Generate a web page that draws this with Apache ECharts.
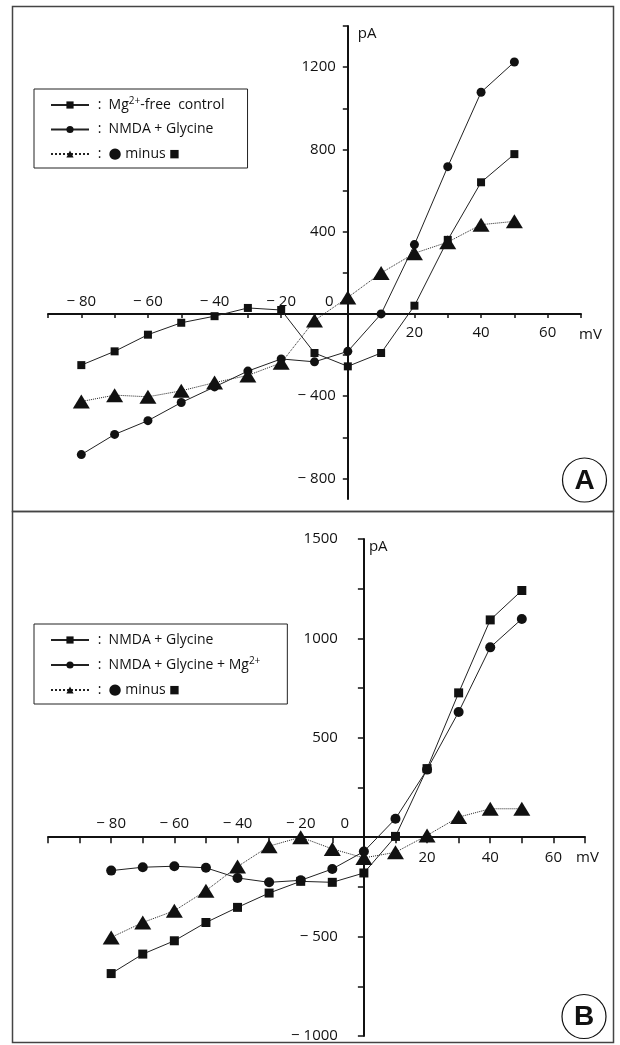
<!DOCTYPE html>
<html>
<head>
<meta charset="utf-8">
<script src="https://cdn.jsdelivr.net/npm/echarts@6/dist/echarts.min.js"></script>
<style>
  html, body { margin: 0; padding: 0; background: #fff; }
  #chart { width: 620px; height: 1045px; }
</style>
</head>
<body>
<div id="chart"></div>
<script>
// membrane potential (mV), same for both panels
const mV = [-80, -70, -60, -50, -40, -30, -20, -10, 0, 10, 20, 30, 40, 50];

// panel A (pA)
const ctrlA = [-249, -182, -101, -43, -11, 29, 19, -190, -255, -190, 40, 360, 640, 777];
const nmdaA = [-684, -586, -519, -431, -355, -278, -219, -233, -182, 0, 337, 716, 1078, 1225];
const diffA = [-426, -395, -403, -374, -334, -299, -238, -32, 80, 199, 295, 349, 434, 450];

// panel B (pA)
const nmdaB = [-686, -588, -521, -429, -353, -281, -222, -227, -180, 4, 345, 726, 1093, 1241];
const mgB = [-168, -151, -146, -154, -205, -227, -217, -160, -72, 93, 340, 630, 955, 1098];
const diffB = [-504, -429, -370, -269, -148, -45, 0, -59, -104, -76, 9, 101, 143, 143];

// ticks and labels
const xTicksA = [-90, -80, -70, -60, -50, -40, -30, -20, -10, 0, 10, 20, 30, 40, 50, 60, 70];
const xTicksB = [-100, -90, -80, -70, -60, -50, -40, -30, -20, -10, 0, 10, 20, 30, 40, 50, 60, 70];
const xNegLabels = [-80, -60, -40, -20, 0];
const xPosLabels = [20, 40, 60];
const yTicksA = [-800, -600, -400, -200, 0, 200, 400, 600, 800, 1000, 1200, 1400];
const yLabelsA = [-800, -400, 400, 800, 1200];
const yTicksB = [-1000, -750, -500, -250, 0, 250, 500, 750, 1000, 1250, 1500];
const yLabelsB = [-1000, -500, 500, 1000, 1500];

const legendText = {
  a1: ' :  Mg{sup|2+}-free  control',
  a2: ' :  NMDA + Glycine',
  a3: ' :  {c|\u25CF} minus {s|\u25A0}',
  b1: ' :  NMDA + Glycine',
  b2: ' :  NMDA + Glycine + Mg{sup|2+}',
  b3: ' :  {c|\u25CF} minus {s|\u25A0}'
};

const FONT = '"Open Sans", "Liberation Sans", sans-serif';
const INK = '#111';

// panel frames (pixels) and ranges
const panA = { xMin: -90, xMax: 70, yMin: -900, yMax: 1400, left: 48, top: 26, width: 533, height: 473 };
const panB = { xMin: -100, xMax: 70, yMin: -1000, yMax: 1500, left: 48, top: 539, width: 537, height: 497 };

function pairs(ys) { return mV.map((x, i) => [x, ys[i]]); }
function minus(v) { return v < 0 ? '\u2212 ' + (-v) : String(v); }
const txt = { color: INK, fontSize: 15, fontFamily: FONT };

// three grids per panel: data, x-axis strip at y=0, y-axis strip at x=0
function grids(p) {
  const zeroY = p.top + p.yMax / (p.yMax - p.yMin) * p.height;
  const zeroX = p.left + (0 - p.xMin) / (p.xMax - p.xMin) * p.width;
  return [
    { left: p.left, top: p.top, width: p.width, height: p.height },
    { left: p.left, top: zeroY, width: p.width, height: 20 },
    { left: zeroX, top: p.top, width: 20, height: p.height }
  ];
}

function hidden(grid, min, max) {
  return { gridIndex: grid, type: 'value', min: min, max: max, show: false, axisLine: { onZero: false }, splitLine: { show: false } };
}

function panelX(g, p, ticks, tickLen, negMargin, posMargin, zeroPad, nameGap) {
  return [
    hidden(g, p.xMin, p.xMax),
    {
      gridIndex: g + 1, type: 'value', min: p.xMin, max: p.xMax, position: 'top',
      axisLine: { onZero: false, lineStyle: { color: INK, width: 2 } },
      axisTick: { customValues: ticks, inside: true, length: tickLen, lineStyle: { color: INK, width: 1.5 } },
      axisLabel: Object.assign({ customValues: xPosLabels, inside: true, margin: posMargin }, txt),
      splitLine: { show: false },
      name: 'mV', nameLocation: 'end', nameGap: nameGap, nameMoveOverlap: false,
      nameTextStyle: Object.assign({ verticalAlign: 'top', padding: [13, 0, 0, 0] }, txt)
    },
    {
      gridIndex: g + 1, type: 'value', min: p.xMin, max: p.xMax, position: 'top',
      axisLine: { show: false, onZero: false },
      axisTick: { show: false },
      axisLabel: Object.assign({
        customValues: xNegLabels, margin: negMargin,
        formatter: v => v === 0 ? '{z|0}' : minus(v),
        rich: { z: Object.assign({ padding: [0, zeroPad, 0, 0] }, txt) }
      }, txt),
      splitLine: { show: false }
    },
    hidden(g + 2, p.xMin, p.xMax)
  ];
}

function panelY(g, p, ticks, labels, tickLen, margin, namePad) {
  return [
    hidden(g, p.yMin, p.yMax),
    hidden(g + 1, p.yMin, p.yMax),
    {
      gridIndex: g + 2, type: 'value', min: p.yMin, max: p.yMax, position: 'left',
      axisLine: { onZero: false, lineStyle: { color: INK, width: 2 } },
      axisTick: { customValues: ticks, length: tickLen, lineStyle: { color: INK, width: 1.5 } },
      axisLabel: Object.assign({ customValues: labels, margin: margin, formatter: minus }, txt),
      splitLine: { show: false },
      name: 'pA', nameLocation: 'end', nameGap: 0, nameMoveOverlap: false,
      nameTextStyle: Object.assign({ align: 'left', verticalAlign: 'top', padding: [0, 0, 0, namePad] }, txt)
    }
  ];
}

function line(name, xi, yi, ys, symbol, size, dotted) {
  return {
    name: name, type: 'line', xAxisIndex: xi, yAxisIndex: yi, data: pairs(ys),
    symbol: symbol, symbolSize: size, showSymbol: true,
    itemStyle: { color: INK },
    lineStyle: { color: '#222', width: 1, type: dotted ? 'dotted' : 'solid' },
    emphasis: { disabled: true }
  };
}

function legend(names, left, top, gap, pad) {
  return {
    data: names, orient: 'vertical', left: left, top: top,
    itemWidth: 38, itemHeight: 9, itemGap: gap,
    padding: pad, borderColor: '#222', borderWidth: 1, selectedMode: false,
    formatter: n => legendText[n],
    textStyle: {
      color: INK, fontSize: 14, fontFamily: FONT, lineHeight: 18,
      rich: {
        sup: { fontSize: 10, fontFamily: FONT, color: INK, lineHeight: 10, verticalAlign: 'top' },
        c: { fontSize: 15, fontFamily: '"DejaVu Sans"', color: INK, lineHeight: 18 },
        s: { fontSize: 11, fontFamily: '"DejaVu Sans"', color: INK, lineHeight: 18 }
      }
    }
  };
}

const badge = (cx, cy, letter) => [
  { type: 'circle', silent: true, shape: { cx: cx, cy: cy, r: 22 }, style: { fill: '#fff', stroke: INK, lineWidth: 1.2 } },
  { type: 'text', silent: true, x: cx, y: cy + 1, style: { text: letter, font: 'bold 28px "Liberation Sans", Arial, sans-serif', fill: INK, align: 'center', verticalAlign: 'middle', textAlign: 'center', textVerticalAlign: 'middle' } }
];

const chart = echarts.init(document.getElementById('chart'), null, { renderer: 'canvas' });
chart.setOption({
  animation: false,
  backgroundColor: '#fff',
  grid: grids(panA).concat(grids(panB)).map(g => Object.assign({ outerBoundsMode: 'none', containLabel: false }, g)),
  xAxis: panelX(0, panA, xTicksA, 4, 5, 11, 37, -2).concat(panelX(3, panB, xTicksB, 6, 6, 13, 38, -9)),
  yAxis: panelY(0, panA, yTicksA, yLabelsA, 5, 12, 10).concat(panelY(3, panB, yTicksB, yLabelsB, 6, 26, 5)),
  legend: [
    legend(['a1', 'a2', 'a3'], 34, 89, 6.5, [7, 23, 5, 16]),
    legend(['b1', 'b2', 'b3'], 34, 624, 7, [7, 27, 5, 16])
  ],
  series: [
    line('a1', 0, 0, ctrlA, 'rect', 8, false),
    line('a2', 0, 0, nmdaA, 'circle', 9, false),
    line('a3', 0, 0, diffA, 'triangle', [17, 14], true),
    line('b1', 4, 3, nmdaB, 'rect', 9, false),
    line('b2', 4, 3, mgB, 'circle', 10, false),
    line('b3', 4, 3, diffB, 'triangle', [17, 14], true)
  ],
  graphic: [
    { type: 'rect', silent: true, shape: { x: 12.5, y: 6.5, width: 601, height: 505 }, style: { fill: 'none', stroke: '#444', lineWidth: 1.5 } },
    { type: 'rect', silent: true, shape: { x: 12.5, y: 511.5, width: 601, height: 531 }, style: { fill: 'none', stroke: '#444', lineWidth: 1.5 } }
  ].concat(badge(584.5, 480, 'A'), badge(584, 1016.5, 'B'))
});
</script>
</body>
</html>
